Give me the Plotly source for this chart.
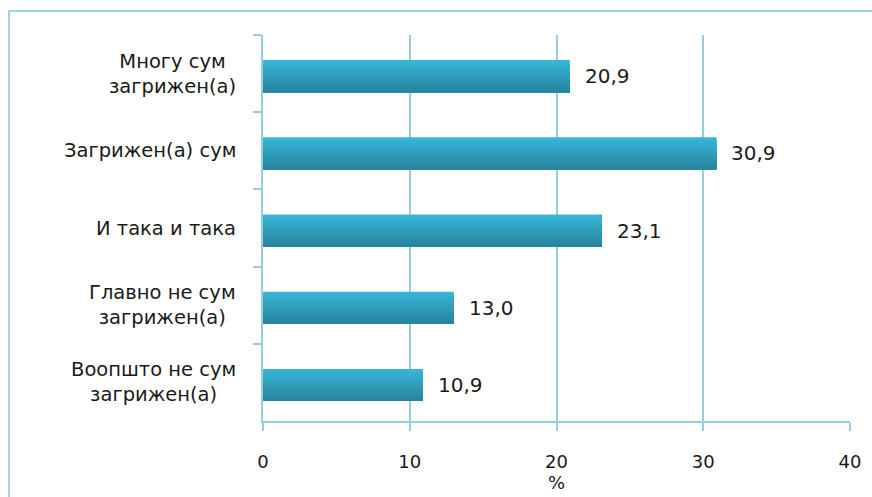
import plotly.graph_objects as go

categories = ["Многу сум<br>загрижен(а)", "Загрижен(а) сум", "И така и така",
              "Главно не сум<br>загрижен(а)", "Воопшто не сум<br>загрижен(а)"]
values = [20.9, 30.9, 23.1, 13.0, 10.9]
value_labels = ["20,9", "30,9", "23,1", "13,0", "10,9"]
x_ticks = [0, 10, 20, 30, 40]
x_title = "%"

FONT = "DejaVu Sans"
LINE = "#96cedd"

top_rgb = (0x37, 0xb5, 0xd8)
bot_rgb = (0x28, 0x84, 0x9e)
N = 16
bar_w = 0.415
base_off = -0.175

fig = go.Figure()
for i in range(N):
    t = i / (N - 1)
    c = tuple(round(a + (b - a) * t) for a, b in zip(top_rgb, bot_rgb))
    fig.add_trace(go.Bar(
        y=categories, x=values, orientation="h",
        width=bar_w - i * bar_w / N, offset=base_off + i * bar_w / N,
        marker=dict(color="rgb(%d,%d,%d)" % c, line=dict(width=0)),
        hoverinfo="skip", showlegend=False,
    ))

for cat, v, lab in zip(categories, values, value_labels):
    fig.add_annotation(x=v, y=cat, text=lab, xref="x", yref="y",
                       xanchor="left", yanchor="middle", xshift=13, yshift=-2.5,
                       showarrow=False, font=dict(family=FONT, size=20, color="#1a1a1a"))
    fig.add_annotation(x=0, y=cat, text=cat, xref="paper", yref="y",
                       xanchor="right", yanchor="middle", xshift=-25, align="center",
                       showarrow=False, font=dict(family=FONT, size=19.5, color="#1a1a1a"))

fig.add_shape(type="rect", xref="paper", yref="paper",
              x0=-0.4327, y0=-0.35, x1=1.2, y1=1.062,
              line=dict(color="#a0d4e2", width=2), fillcolor="rgba(0,0,0,0)", layer="below")

fig.update_layout(
    width=872, height=497,
    margin=dict(l=263, r=22, t=35, b=76),
    paper_bgcolor="white", plot_bgcolor="white",
    barmode="overlay",
    font=dict(family=FONT, size=18, color="#1a1a1a"),
    xaxis=dict(range=[0, 40], tickvals=x_ticks, ticktext=[str(t) for t in x_ticks],
               showgrid=True, gridcolor=LINE, gridwidth=1.5,
               showline=True, linecolor=LINE, linewidth=2,
               ticks="outside", ticklen=8, tickcolor=LINE, tickwidth=2,
               ticklabelstandoff=15, zeroline=False,
               title=dict(text=x_title, standoff=0, font=dict(size=18)),
               tickfont=dict(size=18)),
    yaxis=dict(autorange="reversed", showticklabels=False, showgrid=False,
               showline=True, linecolor=LINE, linewidth=2,
               ticks="outside", ticklen=8, tickcolor=LINE, tickwidth=2,
               tickson="boundaries", zeroline=False),
)

fig.write_html("out.html", config={"displayModeBar": False},
               post_script="document.body.style.margin='0';")
